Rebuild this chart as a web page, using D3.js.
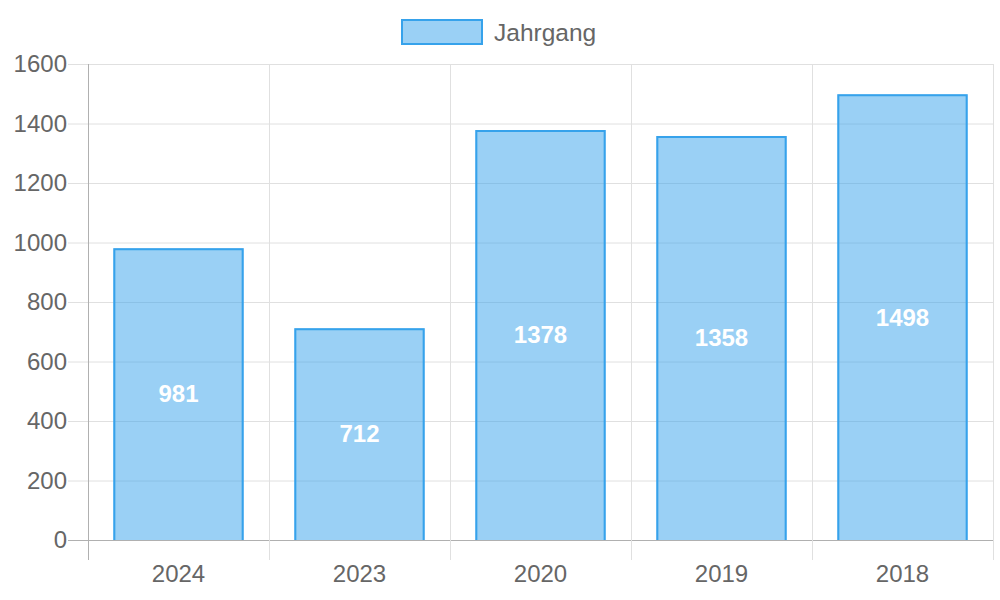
<!DOCTYPE html>
<html><head><meta charset="utf-8">
<script src="https://cdn.jsdelivr.net/npm/d3@7"></script>
<style>body{margin:0;background:#fff}svg{display:block}text{font-family:"Liberation Sans",Arial,Helvetica,sans-serif}</style>
</head><body>
<svg id="c" width="1000" height="600"></svg>
<script>
const categories = ["2024","2023","2020","2019","2018"];
const values = [981, 712, 1378, 1358, 1498];
const yTicks = [0,200,400,600,800,1000,1200,1400,1600];
const seriesName = "Jahrgang";

const svg = d3.select("#c");
const L = 88, R = 993, T = 64, B = 540;
const x = d3.scaleBand().domain(categories).range([L, R]).paddingInner(0).paddingOuter(0);
const y = d3.scaleLinear().domain([0, 1600]).range([B, T]);
const fill = "rgba(54,162,235,0.5)", stroke = "rgb(54,162,235)";
const grid = "#e0e0e0", axisC = "#b0b0b0", txt = "#666";
const fs = 24;

// horizontal grid
const yg = svg.append("g");
yTicks.forEach(t => {
  yg.append("line").attr("x1", L - 20).attr("x2", R).attr("y1", y(t)+0.5).attr("y2", y(t)+0.5)
    .attr("stroke", t === 0 ? axisC : grid).attr("stroke-width", 1);
  yg.append("text").attr("x", L - 21).attr("y", y(t)).attr("dy", "0.35em")
    .attr("text-anchor", "end").attr("fill", txt).attr("font-size", fs).text(t);
});
// vertical grid
const bounds = categories.map(c => x(c)).concat([R]);
bounds.forEach((b, i) => {
  svg.append("line").attr("x1", b+0.5).attr("x2", b+0.5).attr("y1", T).attr("y2", B + 20)
    .attr("stroke", i === 0 ? axisC : grid).attr("stroke-width", 1);
});
// x labels
categories.forEach(c => {
  svg.append("text").attr("x", x(c) + x.bandwidth()/2).attr("y", 574).attr("dy", "0.35em")
    .attr("text-anchor", "middle").attr("fill", txt).attr("font-size", fs).text(c);
});
// bars
const bw = x.bandwidth() * 0.72;
const bars = svg.append("g");
categories.forEach((c, i) => {
  const cx = x(c) + x.bandwidth()/2;
  bars.append("rect").attr("x", cx - bw/2).attr("y", y(values[i]))
    .attr("width", bw).attr("height", B - y(values[i]))
    .attr("fill", fill);
  bars.append("path")
    .attr("d", `M${cx-bw/2+1},${B}V${y(values[i])+1}H${cx+bw/2-1}V${B}`)
    .attr("fill", "none").attr("stroke", stroke).attr("stroke-width", 2);
  bars.append("text").attr("x", cx).attr("y", (y(values[i]) + B)/2).attr("dy", "0.35em")
    .attr("text-anchor", "middle").attr("fill", "#fff").attr("font-weight", "bold")
    .attr("font-size", fs).text(values[i]);
});
// legend
svg.append("rect").attr("x", 402).attr("y", 20).attr("width", 80).attr("height", 24)
  .attr("fill", fill).attr("stroke", stroke).attr("stroke-width", 2);
svg.append("text").attr("x", 494).attr("y", 32).attr("dy", "0.35em").attr("fill", txt)
  .attr("font-size", 24.5).text(seriesName);
</script>
</body></html>
